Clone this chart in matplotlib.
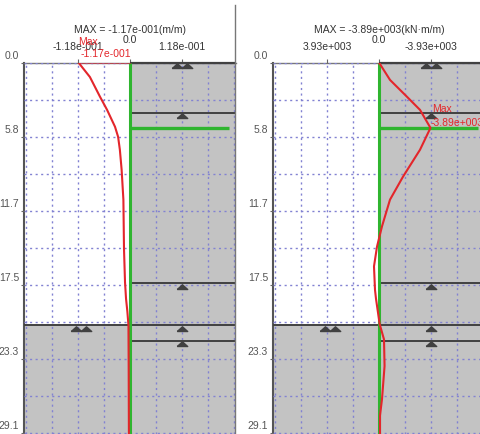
import matplotlib
matplotlib.use("Agg")
import matplotlib.pyplot as plt
from matplotlib.ticker import MultipleLocator
from matplotlib.transforms import offset_copy, ScaledTranslation
from matplotlib.lines import Line2D

plt.rcParams["font.family"] = ["Liberation Sans", "DejaVu Sans"]

# depth axis
y_ticks = [0.0, 5.83, 11.66, 17.49, 23.32, 29.15]
y_tick_labels = ["0.0", "5.8", "11.7", "17.5", "23.3", "29.1"]
depth_bottom = 29.25

# wall / stage geometry (m)
stage_depths = [3.95, 17.4, 21.9]
excavation_depth = 20.7
strut_depth = 5.15

# left panel: displacement-like result (m/m)
disp_depth = [0.0, 0.0, 1.14, 2.7, 3.73, 5.06, 5.85, 6.87, 8.44, 10.8, 14.7, 17.3,
              18.6, 19.6, 20.7, 24.0, 29.3]
disp = [0.0, -0.117, -0.091, -0.068, -0.052, -0.034, -0.027, -0.023, -0.019, -0.015,
        -0.0136, -0.0113, -0.009, -0.006, -0.0035, -0.003, -0.0025]
disp_ticks = [-0.118, 0.0, 0.118]
disp_tick_labels = ["-1.18e-001", "0.0", "1.18e-001"]

# right panel: bending moment (kN*m/m)
mom_depth = [0.0, 1.37, 2.7, 3.73, 5.15, 6.87, 8.99, 10.8, 12.9, 14.5, 16.05, 17.9,
             18.6, 20.6, 21.8, 23.9, 26.5, 27.8, 29.3]
moment = [0, -831, -2116, -3099, -3890, -3099, -1814, -831, -227, 151, 378, 302,
          227, -50, -378, -420, -227, -76, -76]
mom_ticks = [3930, 0, -3930]
mom_tick_labels = ["3.93e+003", "0.0", "-3.93e+003"]

W, H = 481, 434
fig = plt.figure(figsize=(W / 100, H / 100), dpi=100)

GRAY = "#c3c3c3"
GRID = "#8282d2"
RED = "#e3262b"
GREEN = "#2fb52f"
DARK = "#414141"
TXT = "#333333"
FS = 7.5


def sci(v):
    if v == 0:
        return "0.0"
    e = 0
    a = abs(v)
    while a >= 10:
        a /= 10
        e += 1
    while a < 1:
        a *= 10
        e -= 1
    s = "-" if v < 0 else ""
    return f"{s}{a:.2f}e{e:+04d}"


def tri(ax, x, d, dx=0):
    tr = offset_copy(ax.transData, fig=fig, x=dx, y=-5.5, units="dots")
    ax.plot([x], [d], marker=[(-1, 0), (1, 0), (0, 0.9), (-1, 0)], ms=7.5,
            color=DARK, transform=tr, clip_on=False, zorder=6)


def panel(left_px, width_px, xlim, xstep, depth, vals, ticks, tick_labels,
          unit, pair_x, single_x, max_off):
    top_px = 62.5
    ax = fig.add_axes([left_px / W, 0, width_px / W, (H - top_px) / H])
    ax.set_xlim(xlim)
    ax.set_ylim(depth_bottom, 0)
    ax.set_facecolor("white")
    far = xlim[1]

    # soil regions
    ax.fill_betweenx([0, depth_bottom], 0, far, color=GRAY, lw=0, zorder=0.5)
    ax.fill_betweenx([excavation_depth, depth_bottom], xlim[0], 0, color=GRAY,
                     lw=0, zorder=0.5)

    # grid
    ax.xaxis.set_minor_locator(MultipleLocator(xstep))
    ax.yaxis.set_minor_locator(MultipleLocator(29.15 / 10))
    ax.set_axisbelow(False)
    ax.grid(which="both", color=GRID, ls=(0, (1.5, 2.5)), lw=1)

    # stage lines
    ax.hlines(0, 0, far, color=DARK, lw=1.6, zorder=4, clip_on=False)
    ax.hlines(stage_depths, 0, far, color=DARK, lw=1.4, zorder=4)
    ax.hlines(excavation_depth, xlim[0], far, color=DARK, lw=1.4, zorder=4)
    tri(ax, single_x, 0, -5)
    tri(ax, single_x, 0, 5)
    for d in stage_depths + [excavation_depth]:
        tri(ax, single_x, d)
    tri(ax, pair_x, excavation_depth, -5)
    tri(ax, pair_x, excavation_depth, 5)

    # wall and strut
    ax.vlines(0, 0, depth_bottom, color=GREEN, lw=2.2, zorder=4.5)
    ax.hlines(strut_depth, 0, far * 0.93, color=GREEN, lw=2.4, zorder=4.5)

    # result curve
    ax.plot(vals, depth, color=RED, lw=1.5, zorder=5)
    i = min(range(len(vals)), key=lambda k: vals[k])
    vmax = vals[i]
    ax.annotate("Max", xy=(vmax, depth[i]), xytext=(max_off[0], max_off[1]),
                textcoords="offset points", ha="left", va="center",
                color=RED, fontsize=FS, zorder=7, annotation_clip=False)
    ax.annotate(sci(vmax), xy=(vmax, depth[i]), xytext=(max_off[2], max_off[3]),
                textcoords="offset points", ha="left", va="center",
                color=RED, fontsize=FS, zorder=7, annotation_clip=False)

    ax.annotate(f"MAX = {sci(vmax)}({unit})", xy=(0.5, 1), xycoords="axes fraction",
                xytext=(0, 21), textcoords="offset points", ha="center",
                va="baseline", fontsize=FS, color=TXT)

    # axes
    for s in ["bottom", "right"]:
        ax.spines[s].set_visible(False)
    ax.spines["left"].set_color("#555555")
    ax.spines["left"].set_linewidth(1.5)
    ax.spines["top"].set_color("#777777")
    ax.spines["top"].set_linewidth(1)
    ax.xaxis.tick_top()
    ax.set_xticks(ticks)
    ax.set_xticklabels(tick_labels)
    ax.set_yticks(y_ticks)
    ax.set_yticklabels(y_tick_labels)
    ax.tick_params(which="minor", length=0)
    ax.tick_params(axis="x", which="major", length=3, pad=4.5, labelsize=FS,
                   colors="#666666", labelcolor=TXT)
    ax.tick_params(axis="y", which="major", length=2, pad=1.5, labelsize=FS,
                   colors="#666666", labelcolor="#555555")
    for lab in ax.get_xticklabels():
        if lab.get_text() == "0.0":
            lab.set_transform(lab.get_transform()
                              + ScaledTranslation(0, 7 / 100, fig.dpi_scale_trans))
    for lab in ax.get_yticklabels():
        lab.set_verticalalignment("bottom")
        lab.set_transform(lab.get_transform()
                          + ScaledTranslation(0, 1.5 / 100, fig.dpi_scale_trans))
    return ax


panel(24, 212, (-0.2405, 0.2405), 0.059, disp_depth, disp, disp_ticks,
      disp_tick_labels, "m/m", -0.111, 0.118, (0, 14.8, 1.5, 6))
ax_r = panel(273, 212, (8011, -8011), 1965, mom_depth, moment, mom_ticks,
             mom_tick_labels, "kN\u00b7m/m", 3703, -3930, (1, 13.3, 0, 3.2))

# frame line of the left window
fig.add_artist(Line2D([235.5 / W, 235.5 / W], [1 - 5 / H, 0], color="#777777", lw=1))

fig.savefig("out.png", dpi=100)
